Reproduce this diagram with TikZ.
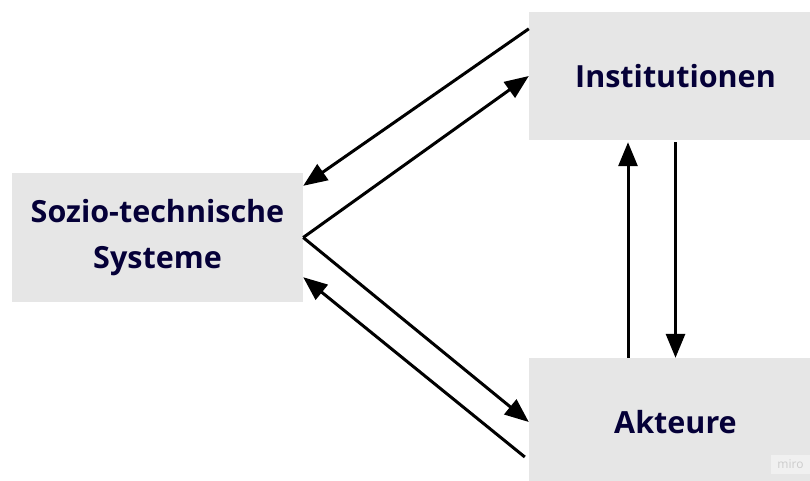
\documentclass[tikz,border=0pt]{standalone}
\usepackage{fontspec}
\setmainfont{Open Sans}
\usetikzlibrary{arrows.meta}
\definecolor{boxgray}{HTML}{E6E6E6}
\definecolor{navy}{HTML}{050038}
\begin{document}
\begin{tikzpicture}[x=1pt,y=-1pt,
  box/.style={fill=boxgray, draw=none, inner sep=0pt, font=\fontsize{30.5}{46}\selectfont\bfseries, text=navy, align=center},
  conn/.style={line width=3pt, -{Triangle[length=24pt,width=19pt]}}]
\useasboundingbox (0,0) rectangle (810,480);
\clip (0,0) rectangle (810,480);
\node[box, minimum width=291pt, minimum height=129pt] (soz) at (157.5,237.5) {Sozio-technische\\Systeme};
\node[box, minimum width=293pt, minimum height=128pt] (inst) at (675.5,76) {Institutionen};
\node[box, minimum width=293pt, minimum height=128pt] (akt) at (675.5,422) {Akteure};
\node[fill=boxgray!60!white, text=black!20, font=\fontsize{12}{14}\selectfont, minimum width=39pt, minimum height=19pt, inner sep=0pt] (miro) at (790.5,464.5) {miro};
\draw[conn] ([yshift=-17pt]inst.north west) -- ([yshift=-13pt]soz.north east);
\draw[conn] (soz.east) -- (inst.west);
\draw[conn] (soz.east) -- (akt.west);
\draw[conn] ([xshift=-4pt,yshift=-35pt]akt.west) -- ([yshift=25pt]soz.south east);
\draw[conn] ([xshift=-47.5pt]akt.north) -- ([xshift=-47.5pt,yshift=-2pt]inst.south);
\draw[conn] ([yshift=-2pt]inst.south) -- (akt.north);
\end{tikzpicture}
\end{document}
